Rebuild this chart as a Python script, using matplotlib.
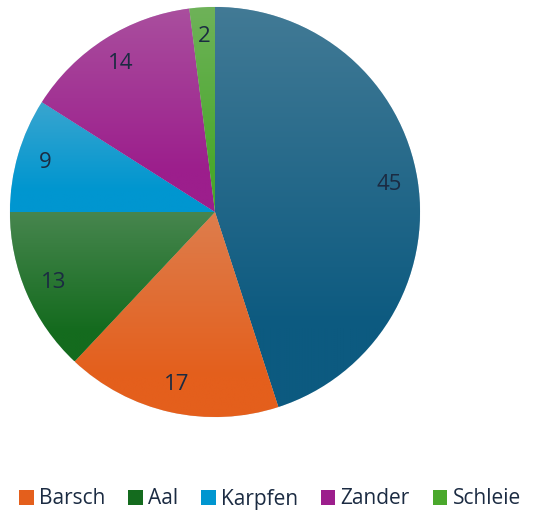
import matplotlib
matplotlib.use("Agg")
import matplotlib.pyplot as plt
import numpy as np
from matplotlib.colors import to_rgb
from matplotlib.patches import Patch

# data, clockwise from 12 o'clock
categories = ["", "Barsch", "Aal", "Karpfen", "Zander", "Schleie"]
values = [45, 17, 13, 9, 14, 2]
colors = ["#0c5a80", "#e45f1c", "#146b1e", "#0096d0", "#9c1e8c", "#4aa82c"]

plt.rcParams["font.family"] = ["Open Sans", "DejaVu Sans"]
text_color = "#1b2b42"

fig = plt.figure(figsize=(5.35, 5.14), dpi=100)
ax = fig.add_axes([10 / 535, 97 / 514, 410 / 535, 410 / 514])

wedges, texts, autotexts = ax.pie(
    values,
    colors=colors,
    startangle=90,
    counterclock=False,
    radius=1,
    autopct=lambda p: f"{p * sum(values) / 100:.0f}",
    pctdistance=0.86,
    wedgeprops=dict(edgecolor="#e8eef2", linewidth=0.4),
    textprops=dict(color=text_color, fontsize=16),
)


# vertical gradient on each slice: washed out at the top, full colour lower down
def lighten(c, amount=0.28, grey=0.8):
    r, g, b = to_rgb(c)
    return tuple((1 - amount) * v + amount * grey for v in (r, g, b))


for w, c in zip(wedges, colors):
    bb = w.get_path().get_extents()
    top = np.array(lighten(c))
    base = np.array(to_rgb(c))
    t = np.linspace(0, 1, 200)[:, None]  # 0 = bottom, 1 = top
    k = np.clip((t - 0.2) / 0.8, 0, 1)
    grad = base * (1 - k) + top * k
    img = ax.imshow(
        grad[:, None, :],
        extent=[bb.x0, bb.x1, bb.y0, bb.y1],
        origin="lower",
        aspect="auto",
        interpolation="bilinear",
        zorder=w.get_zorder() + 0.1,
    )
    img.set_clip_path(w)

for t in autotexts:
    t.set_zorder(5)

ax.set_xlim(-1, 1)
ax.set_ylim(-1, 1)
ax.set_aspect("equal")
ax.axis("off")

handles = [Patch(facecolor=c, label=n) for n, c in zip(categories, colors) if n]
fig.legend(
    handles=handles,
    loc="center",
    bbox_to_anchor=(270 / 535, 15 / 514),
    ncol=len(handles),
    frameon=False,
    fontsize=15,
    labelcolor=text_color,
    handlelength=0.7,
    handleheight=0.7,
    handletextpad=0.25,
    columnspacing=1.1,
    borderaxespad=0,
    borderpad=0,
)

fig.savefig("out.png", dpi=100)
